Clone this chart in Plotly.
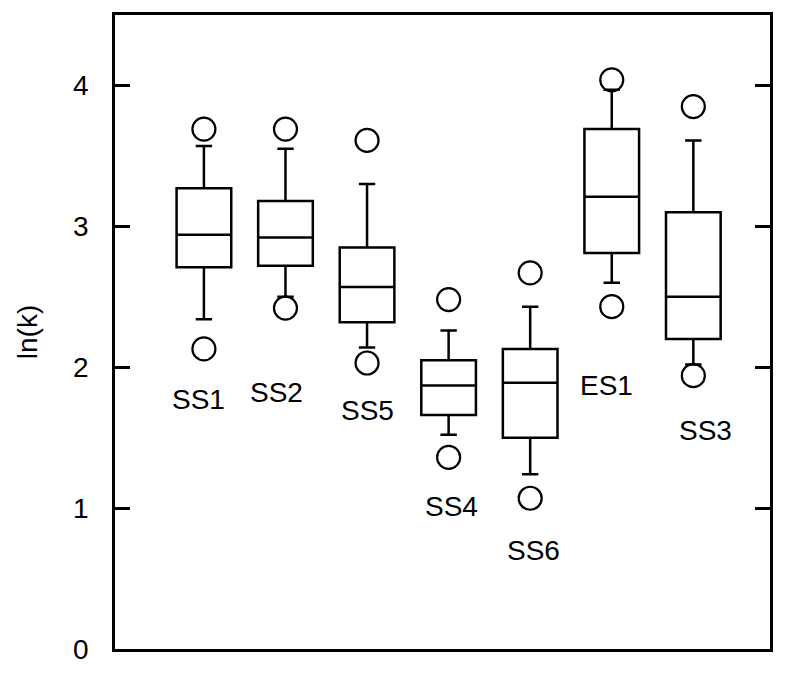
import plotly.graph_objects as go

# Sample groups, left to right
groups = ["SS1", "SS2", "SS5", "SS4", "SS6", "ES1", "SS3"]

# Box statistics of ln(k) for each group
q1 = [2.71, 2.72, 2.32, 1.66, 1.50, 2.81, 2.20]
median = [2.94, 2.92, 2.57, 1.87, 1.89, 3.21, 2.50]
q3 = [3.27, 3.18, 2.85, 2.05, 2.13, 3.69, 3.10]
lower_whisker = [2.34, 2.50, 2.14, 1.52, 1.24, 2.60, 2.02]
upper_whisker = [3.57, 3.55, 3.30, 2.26, 2.43, 3.97, 3.61]

# Extreme values drawn as open circles
outlier_low = [2.13, 2.42, 2.03, 1.36, 1.07, 2.43, 1.94]
outlier_high = [3.69, 3.69, 3.61, 2.48, 2.67, 4.04, 3.85]

# Group name placement (value level and sideways shift)
label_level = [1.77, 1.82, 1.69, 1.01, 0.70, 1.87, 1.55]
label_shift = [-0.07, -0.11, 0.0, 0.04, 0.04, -0.06, 0.15]

y_ticks = [0, 1, 2, 3, 4]

pos = list(range(len(groups)))
FONT = "Liberation Sans"
INK = "black"

fig = go.Figure()

fig.add_trace(go.Box(
    x=pos, q1=q1, median=median, q3=q3,
    lowerfence=lower_whisker, upperfence=upper_whisker,
    boxpoints=False, width=0.67, whiskerwidth=0.3,
    fillcolor="white", line=dict(color=INK, width=2.5),
    showlegend=False, hoverinfo="skip",
))

fig.add_trace(go.Scatter(
    x=pos + pos, y=outlier_low + outlier_high, mode="markers",
    marker=dict(symbol="circle-open", size=23, color=INK,
                line=dict(width=2.2, color=INK)),
    showlegend=False, hoverinfo="skip",
))

for i, name in enumerate(groups):
    fig.add_annotation(
        x=pos[i] + label_shift[i], y=label_level[i], text=name,
        showarrow=False, font=dict(family=FONT, size=28, color=INK),
        xanchor="center", yanchor="middle",
    )

fig.update_layout(
    width=785, height=677,
    margin=dict(l=115, r=15, t=12, b=22),
    paper_bgcolor="white", plot_bgcolor="white",
    font=dict(family=FONT, color=INK, size=28),
)

fig.update_xaxes(
    range=[-1.09, 6.94], showticklabels=False, ticks="",
    showgrid=False, zeroline=False,
    showline=True, linecolor=INK, linewidth=2.5, mirror=True,
)

fig.update_yaxes(
    range=[0, 4.5], tickmode="array", tickvals=y_ticks,
    ticktext=[str(t) for t in y_ticks],
    ticks="inside", ticklen=15, tickwidth=2.5, tickcolor=INK,
    ticklabelstandoff=18,
    tickfont=dict(family=FONT, size=28, color=INK),
    showgrid=False, zeroline=False,
    showline=True, linecolor=INK, linewidth=2.5, mirror="ticks",
    title=dict(text="ln(k)", font=dict(family=FONT, size=28, color=INK),
               standoff=28),
)

fig.write_html("out.html")
